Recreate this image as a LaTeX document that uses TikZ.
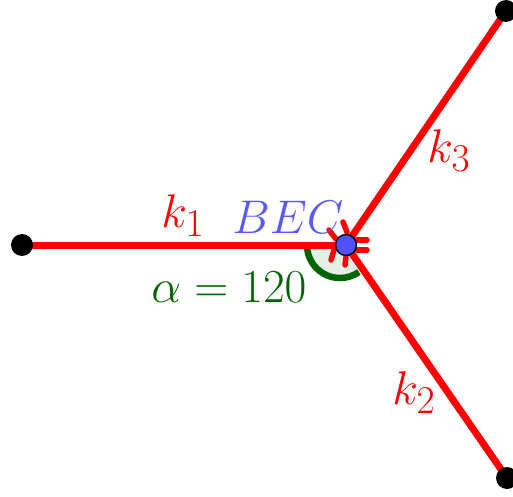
\documentclass[tikz,border=0pt]{standalone}
\begin{document}
\begin{tikzpicture}[x=1pt,y=1pt,
  seg/.style={draw=red,line width=7pt},
  tick/.style={draw=red,line width=5.5pt,line cap=round},
  endpt/.style={circle,fill=black,inner sep=0pt,minimum size=22pt},
  becpt/.style={circle,fill=bluept,draw=black,line width=1.4pt,inner sep=0pt,minimum size=21pt},
  lab/.style={font=\Huge,inner sep=0pt,scale=1.9,transform shape}]
\definecolor{bluept}{RGB}{80,80,255}
\definecolor{bectext}{RGB}{90,90,255}
\definecolor{dgreen}{RGB}{0,100,0}
\definecolor{lgreen}{RGB}{229,239,229}
\useasboundingbox (0,0) rectangle (513,496);
\coordinate (C) at (346,251);
\coordinate (L) at (22,251);
\coordinate (T) at (506,485);
\coordinate (B) at (507,18);
\coordinate (A) at (340,251);
% angle sector
\fill[lgreen] (A) -- ++(180:33pt) arc[start angle=180,end angle=305,radius=33pt] -- cycle;
\draw[dgreen,line width=6.5pt] (A) ++(180:33pt) arc[start angle=180,end angle=305,radius=33pt];
% segments
\draw[seg] (L) -- (C);
\draw[seg] (C) -- (T);
\draw[seg] (C) -- (B);
% tick marks around the point
\draw[tick] (329,266) -- (336,257);
\draw[tick] (334,246) -- (331,236);
\draw[tick] (346,239) -- (345,231);
\draw[tick] (357,256) -- (367,256);
\draw[tick] (357,246) -- (367,246);
\draw[tick] (343,274) -- (347,264);
% points
\node[endpt] (pL) at (L) {};
\node[endpt] (pT) at (T) {};
\node[endpt] (pB) at (B) {};
\node[becpt] (pC) at (C) {};
% labels
\node[lab,text=red] (k1) at (183,280) {$k_1$};
\node[lab,text=bectext] (bec) at (288,279) {$BEC$};
\node[lab,text=dgreen] (alpha) at (229,209) {$\alpha = 120$};
\node[lab,text=red] (k3) at (449,345) {$k_3$};
\node[lab,text=red] (k2) at (414,103) {$k_2$};
\end{tikzpicture}
\end{document}
